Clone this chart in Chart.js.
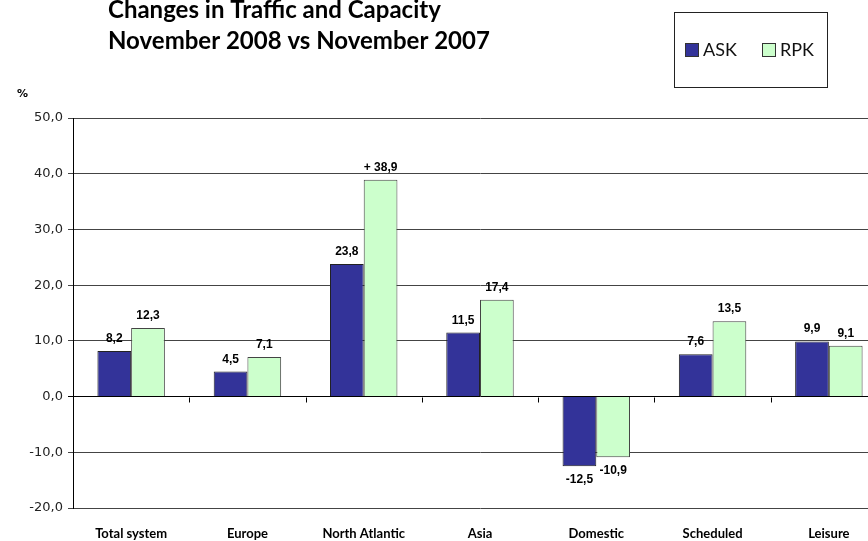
<!DOCTYPE html>
<html>
<head>
<meta charset="utf-8">
<script src="https://cdn.jsdelivr.net/npm/chart.js@4.4.0/dist/chart.umd.min.js"></script>
<style>
  html, body { margin: 0; padding: 0; background: #fff; overflow: hidden; }
  #wrap { width: 900px; height: 541px; }
</style>
</head>
<body>
<div id="wrap"><canvas id="c" width="900" height="541"></canvas></div>
<script>
const categories = ['Total system', 'Europe', 'North Atlantic', 'Asia', 'Domestic', 'Scheduled', 'Leisure'];
const askValues = [8.2, 4.5, 23.8, 11.5, -12.5, 7.6, 9.9];
const rpkValues = [12.3, 7.1, 38.9, 17.4, -10.9, 13.5, 9.1];
const askLabels = ['8,2', '4,5', '23,8', '11,5', '-12,5', '7,6', '9,9'];
const rpkLabels = ['12,3', '7,1', '+ 38,9', '17,4', '-10,9', '13,5', '9,1'];
const yTicks = [-20, -10, 0, 10, 20, 30, 40, 50];
const titleLines = ['Changes in Traffic and Capacity', 'November 2008 vs November 2007'];
const seriesNames = ['ASK', 'RPK'];
const seriesColors = ['#333399', '#CCFFCC'];

const fmt = v => v.toFixed(1).replace('.', ',');

const decorPlugin = {
  id: 'decor',
  afterDraw(chart) {
    const ctx = chart.ctx;
    ctx.save();
    // Title
    ctx.fillStyle = '#000';
    ctx.font = 'bold 24px Lato';
    ctx.textBaseline = 'alphabetic';
    ctx.textAlign = 'left';
    ctx.fillText(titleLines[0], 108, 18);
    ctx.fillText(titleLines[1], 108, 49);
    // % label
    ctx.font = 'bold 11px "DejaVu Sans"';
    ctx.fillText('%', 17, 97);
    // Legend box
    ctx.strokeStyle = '#222';
    ctx.lineWidth = 1;
    ctx.strokeRect(674.5, 12.5, 153, 75);
    ctx.font = '18px Lato';
    ctx.textBaseline = 'middle';
    const items = [{x: 685, tx: 703}, {x: 762, tx: 780}];
    items.forEach((it, i) => {
      ctx.fillStyle = seriesColors[i];
      ctx.fillRect(it.x, 43, 14, 14);
      ctx.strokeStyle = '#333';
      ctx.strokeRect(it.x + 0.5, 43.5, 13, 13);
      ctx.fillStyle = '#111';
      ctx.fillText(seriesNames[i], it.tx, 50.5);
    });
    ctx.restore();
  },
  afterDatasetsDraw(chart) {
    const ctx = chart.ctx;
    const xs = chart.scales.x, ys = chart.scales.y;
    const y0 = Math.round(ys.getPixelForValue(0)) + 0.5;
    ctx.save();
    // category tick marks on zero line
    ctx.strokeStyle = '#000';
    ctx.lineWidth = 1;
    for (let i = 1; i < categories.length; i++) {
      const x = Math.round((xs.getPixelForValue(i - 1) + xs.getPixelForValue(i)) / 2) + 0.5;
      ctx.beginPath();
      ctx.moveTo(x, y0);
      ctx.lineTo(x, y0 + 5);
      ctx.stroke();
    }
    // data labels
    ctx.fillStyle = '#000';
    ctx.font = 'bold 12px "Liberation Sans"';
    ctx.textAlign = 'center';
    const labelSets = [askLabels, rpkLabels];
    chart.data.datasets.forEach((ds, di) => {
      const meta = chart.getDatasetMeta(di);
      meta.data.forEach((bar, i) => {
        const v = ds.data[i];
        const t = labelSets[di][i];
        if (v >= 0) {
          ctx.textBaseline = 'alphabetic';
          ctx.fillText(t, bar.x, bar.y - 9);
        } else {
          ctx.textBaseline = 'top';
          ctx.fillText(t, bar.x, bar.y + 7);
        }
      });
    });
    ctx.restore();
  }
};

new Chart(document.getElementById('c'), {
  type: 'bar',
  data: {
    labels: categories,
    datasets: [
      { label: seriesNames[0], data: askValues, backgroundColor: seriesColors[0], borderColor: '#222', borderWidth: 1 },
      { label: seriesNames[1], data: rpkValues, backgroundColor: seriesColors[1], borderColor: '#444', borderWidth: 1 }
    ]
  },
  options: {
    responsive: false,
    animation: false,
    layout: { padding: { top: 118, right: 13, left: 0, bottom: 0 } },
    plugins: { legend: { display: false }, title: { display: false }, tooltip: { enabled: false } },
    datasets: { bar: { categoryPercentage: 0.58, barPercentage: 1.0 } },
    scales: {
      x: {
        grid: { display: false, drawTicks: false },
        border: { display: false },
        ticks: { padding: 18, color: '#000', font: { family: 'Lato', weight: 'bold', size: 13 } },
        afterFit(s) { s.height = 33; }
      },
      y: {
        min: -20, max: 50,
        afterBuildTicks(s) { s.ticks = yTicks.map(v => ({ value: v })); },
        grid: {
          color: ctx => (ctx.tick && ctx.tick.value === 0) ? '#000' : '#444',
          tickLength: 5,
          lineWidth: 1
        },
        border: { display: true, color: '#000', width: 1 },
        ticks: { padding: 5, color: '#222', font: { family: 'DejaVu Sans', size: 13 }, callback: v => fmt(v) },
        afterFit(s) { s.width = 73; }
      }
    }
  },
  plugins: [decorPlugin]
});
</script>
</body>
</html>
